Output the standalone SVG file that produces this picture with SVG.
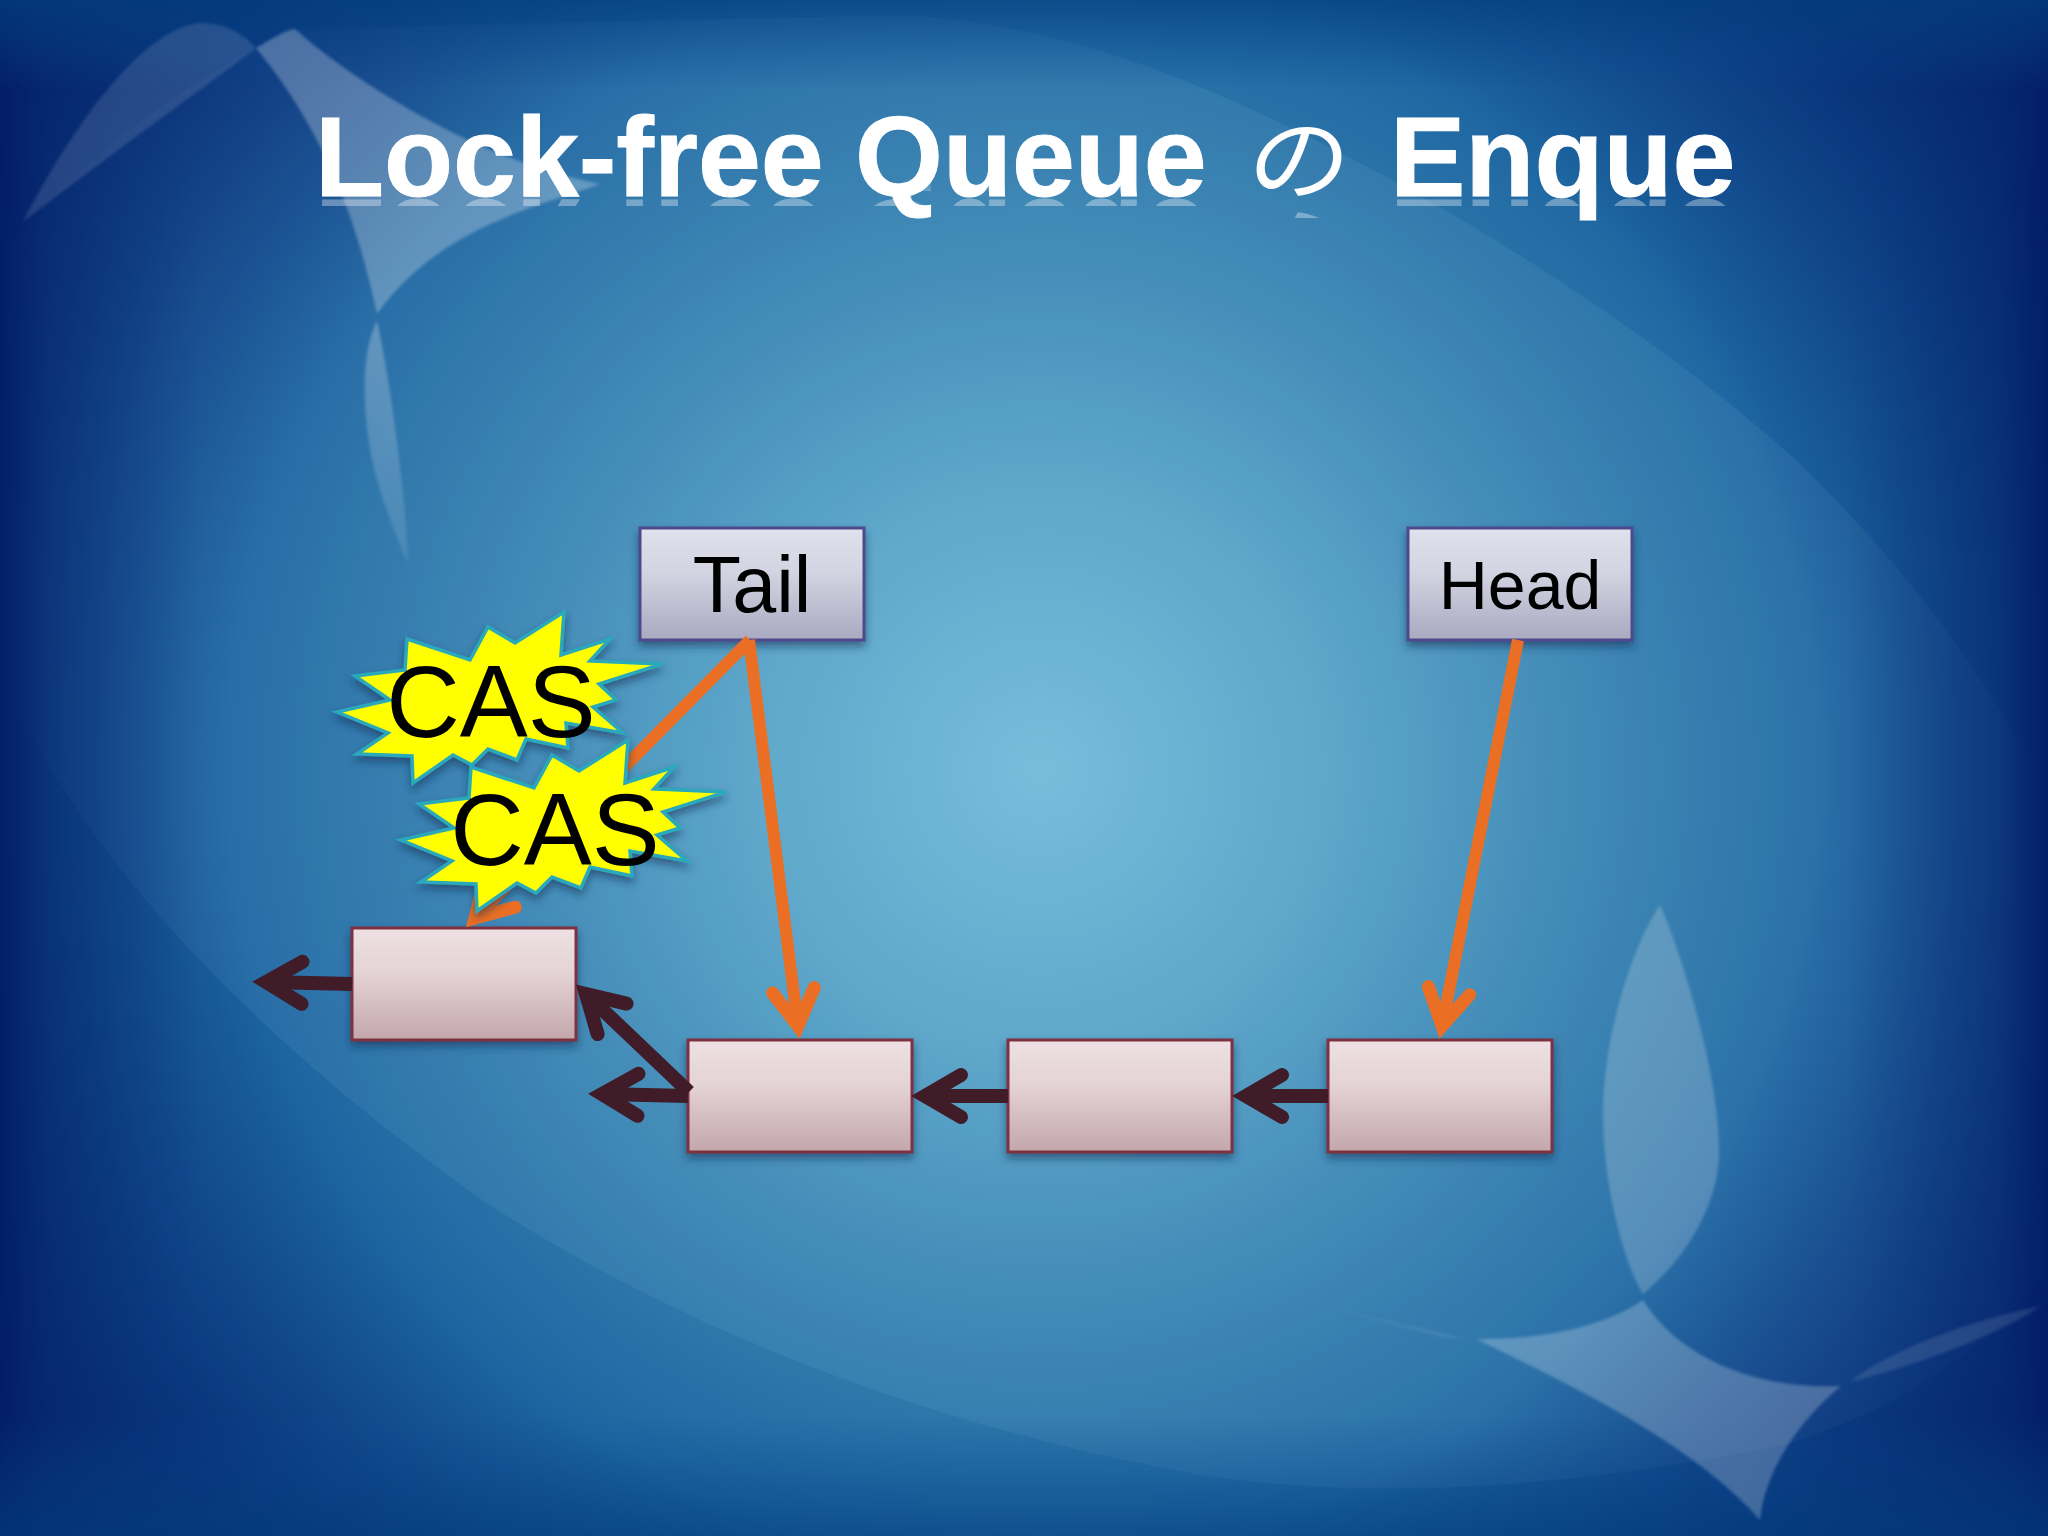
<svg xmlns="http://www.w3.org/2000/svg" xmlns:xlink="http://www.w3.org/1999/xlink" width="2048" height="1536" viewBox="0 0 2048 1536">
<defs>
<radialGradient id="bg" gradientUnits="userSpaceOnUse" cx="1040" cy="770" r="1130">
<stop offset="0" stop-color="#73bcda"/><stop offset=".25" stop-color="#58a4c8"/><stop offset=".5" stop-color="#3580b0"/><stop offset=".72" stop-color="#1c64a0"/><stop offset="1" stop-color="#0f4c90"/>
</radialGradient>
<radialGradient id="corner" gradientUnits="userSpaceOnUse" cx="1024" cy="768" r="1280">
<stop offset=".62" stop-color="#03206c" stop-opacity="0"/><stop offset=".82" stop-color="#03206c" stop-opacity=".55"/><stop offset="1" stop-color="#021a62" stop-opacity=".98"/>
</radialGradient>
<linearGradient id="edgeL" x1="0" x2="1" y1="0" y2="0"><stop offset="0" stop-color="#021c68" stop-opacity=".95"/><stop offset=".25" stop-color="#06286f" stop-opacity=".55"/><stop offset="1" stop-color="#0a3a80" stop-opacity="0"/></linearGradient>
<linearGradient id="edgeR" x1="1" x2="0" y1="0" y2="0"><stop offset="0" stop-color="#021c68" stop-opacity=".95"/><stop offset=".25" stop-color="#06286f" stop-opacity=".55"/><stop offset="1" stop-color="#0a3a80" stop-opacity="0"/></linearGradient>
<linearGradient id="edgeT" x1="0" x2="0" y1="0" y2="1"><stop offset="0" stop-color="#03407f" stop-opacity=".7"/><stop offset="1" stop-color="#0a4a90" stop-opacity="0"/></linearGradient>
<linearGradient id="edgeB" x1="0" x2="0" y1="1" y2="0"><stop offset="0" stop-color="#03407f" stop-opacity=".6"/><stop offset="1" stop-color="#0a4a90" stop-opacity="0"/></linearGradient>
<linearGradient id="nodeFill" x1="0" x2="0" y1="0" y2="1"><stop offset="0" stop-color="#eee0e4"/><stop offset=".4" stop-color="#e4d3d7"/><stop offset="1" stop-color="#c3a6ab"/></linearGradient>
<linearGradient id="ptrFill" x1="0" x2="0" y1="0" y2="1"><stop offset="0" stop-color="#e0e1ec"/><stop offset=".4" stop-color="#d3d4e1"/><stop offset="1" stop-color="#a9a9c1"/></linearGradient>
<linearGradient id="reflect" gradientUnits="userSpaceOnUse" x1="0" y1="199" x2="0" y2="219"><stop offset="0" stop-color="#fff" stop-opacity=".34"/><stop offset="1" stop-color="#fff" stop-opacity="0"/></linearGradient>
<linearGradient id="reflectNo" gradientUnits="userSpaceOnUse" x1="0" y1="208" x2="0" y2="228"><stop offset="0" stop-color="#fff" stop-opacity=".34"/><stop offset="1" stop-color="#fff" stop-opacity="0"/></linearGradient>
<mask id="reflMask" maskUnits="userSpaceOnUse" x="0" y="190" width="2048" height="60"><rect x="0" y="190" width="2048" height="60" fill="url(#reflect)"/></mask>
<mask id="reflMaskNo" maskUnits="userSpaceOnUse" x="0" y="190" width="2048" height="60"><rect x="0" y="190" width="2048" height="60" fill="url(#reflectNo)"/></mask>
<linearGradient id="leafFade" x1="0" x2="0" y1="0" y2="1"><stop offset="0" stop-color="#fff" stop-opacity=".27"/><stop offset="1" stop-color="#fff" stop-opacity=".1"/></linearGradient>
<filter id="shadow" x="-10%" y="-10%" width="120%" height="125%"><feDropShadow dx="0" dy="5" stdDeviation="4" flood-color="#0a2a50" flood-opacity=".55"/></filter>
<filter id="soft" x="-5%" y="-5%" width="110%" height="110%"><feGaussianBlur stdDeviation="1.5"/></filter>
<marker id="headDark" markerUnits="userSpaceOnUse" orient="auto" overflow="visible" markerWidth="1" markerHeight="1" refX="0" refY="0"><path d="M-36,-21 L0,0 L-36,21" fill="none" stroke="#3f1c28" stroke-width="14" stroke-linecap="round" stroke-miterlimit="10"/></marker>
<marker id="headOrange" markerUnits="userSpaceOnUse" orient="auto" overflow="visible" markerWidth="1" markerHeight="1" refX="0" refY="0"><path d="M-36,-21 L0,0 L-36,21" fill="none" stroke="#ea6f24" stroke-width="13" stroke-linecap="round" stroke-miterlimit="10"/></marker>
<polygon id="burst" points="564,612 561,655 610,639 590,661 662,664 599,684 616,700 593,707 623,733 566,723 568,748 526,739 517,760 488,749 472,765 453,755 413,783 412,756 357,754 388,733 337,712 390,700 355,676 405,670 407,639 470,660 488,627 515,643"/>
</defs>
<style>
text{font-family:"Liberation Sans",Arial,sans-serif;fill:#000}
.node{fill:url(#nodeFill);stroke:#7d3040;stroke-width:3;filter:url(#shadow)}
.ptr{fill:url(#ptrFill);stroke:#4d4a8c;stroke-width:3;filter:url(#shadow)}
.dark{stroke:#3f1c28;stroke-width:14;fill:none;marker-end:url(#headDark)}
.orange{stroke:#ea6f24;stroke-width:12;fill:none;marker-end:url(#headOrange)}
.star{fill:#ffff00;stroke:#2aa9bb;stroke-width:3.5;stroke-linejoin:miter;filter:url(#shadow)}
.cas{font-size:102px;text-anchor:middle}
.title{font-size:113px;font-weight:700;fill:#fff;stroke:#fff;stroke-width:1}
.sw{fill:#fff;filter:url(#soft)}
</style>
<g id="background">
<rect width="2048" height="1536" fill="url(#bg)"/>
<path d="M-10,640 C60,850 280,1060 491,1206 C700,1340 950,1430 1200,1475 C1400,1505 1600,1480 1760,1450 C1900,1420 2100,1300 2100,1100 L2100,900 C2020,720 1930,590 1795,459 C1640,320 1400,170 1200,87 C1100,45 1000,20 900,15 L295,29 C200,70 60,170 -10,270Z" fill="#a8d8ec" opacity=".09"/>
<rect width="2048" height="1536" fill="url(#corner)"/>
<rect width="200" height="1536" fill="url(#edgeL)"/>
<rect x="1848" width="200" height="1536" fill="url(#edgeR)"/>
<rect width="2048" height="90" fill="url(#edgeT)"/>
<rect y="1416" width="2048" height="120" fill="url(#edgeB)"/>
<path class="sw" opacity=".12" d="M23,222 C70,130 140,30 199,23 C225,22 245,35 256,48 C215,80 150,125 23,222Z"/>
<path class="sw" opacity=".26" d="M256,48 C270,40 285,30 295,29 C340,70 470,160 600,184 C545,205 440,225 377,314 C365,260 340,150 256,48Z"/>
<path class="sw" style="fill:url(#leafFade)" d="M377,321 C362,350 362,400 370,450 C380,500 398,540 408,563 C406,500 392,390 377,321Z"/>
<path class="sw" opacity=".2" d="M1660,905 C1630,950 1603,1040 1603,1114 C1603,1190 1625,1265 1643,1294 C1690,1255 1719,1200 1719,1152 C1719,1070 1680,950 1660,905Z"/>
<path class="sw" opacity=".23" d="M1643,1300 C1600,1330 1530,1340 1476,1339 C1560,1380 1690,1440 1760,1520 C1765,1470 1800,1420 1841,1386 C1760,1390 1680,1360 1643,1300Z"/>
<path class="sw" opacity=".07" d="M1259,1292 C1330,1310 1410,1325 1470,1339 L1445,1338 C1380,1320 1310,1305 1259,1292Z"/>
<path class="sw" opacity=".11" d="M2041,1306 C1970,1320 1890,1350 1849,1382 C1900,1370 1990,1340 2041,1306Z"/>
</g>
<use xlink:href="#title-latin" href="#title-latin" transform="matrix(1 0 0 -1 0 396)" mask="url(#reflMask)"/>
<use xlink:href="#title-no" href="#title-no" transform="matrix(1 0 0 -1 0 408)" mask="url(#reflMaskNo)"/>
<g id="title">
<g id="title-latin">
<text class="title" x="315" y="196">Lock-free Queue</text>
<text class="title" x="1390" y="196">Enque</text>
</g>
<g id="title-no">
<text class="title" x="1252" y="190" transform="translate(1300 158) skewX(-8) scale(1.02 .92) translate(-1302 -152)" style="font-family:'Noto Sans CJK JP',sans-serif;font-weight:400;font-size:100px;stroke-width:0">の</text>
</g>
</g>
<g id="node-a"><rect class="node" x="352" y="928" width="224" height="112"/></g>
<g id="node-b"><rect class="node" x="688" y="1040" width="224" height="112"/></g>
<g id="node-c"><rect class="node" x="1008" y="1040" width="224" height="112"/></g>
<g id="node-d"><rect class="node" x="1328" y="1040" width="224" height="112"/></g>
<g id="tail"><rect class="ptr" x="640" y="528" width="224" height="112"/><text x="752" y="612" font-size="79" text-anchor="middle">Tail</text></g>
<g id="head"><rect class="ptr" x="1408" y="528" width="224" height="112"/><text x="1520" y="609" font-size="68" text-anchor="middle">Head</text></g>
<g id="connectors">
<line class="dark" x1="352" y1="984" x2="266" y2="982"/>
<line class="dark" x1="689" y1="1092" x2="586" y2="994"/>
<line class="dark" x1="688" y1="1096" x2="602" y2="1094"/>
<line class="dark" x1="1008" y1="1096" x2="925" y2="1096"/>
<line class="dark" x1="1328" y1="1096" x2="1246" y2="1096"/>
<line class="orange" x1="750" y1="640" x2="475" y2="918"/>
<line class="orange" x1="749" y1="640" x2="798" y2="1026"/>
<line class="orange" x1="1518" y1="640" x2="1442" y2="1026"/>
</g>
<g id="cas-1"><use class="star" href="#burst" xlink:href="#burst"/><text class="cas" x="491" y="737">CAS</text></g>
<g id="cas-2"><use class="star" href="#burst" xlink:href="#burst" transform="translate(64 128)"/><text class="cas" x="555" y="865">CAS</text></g>
</svg>
